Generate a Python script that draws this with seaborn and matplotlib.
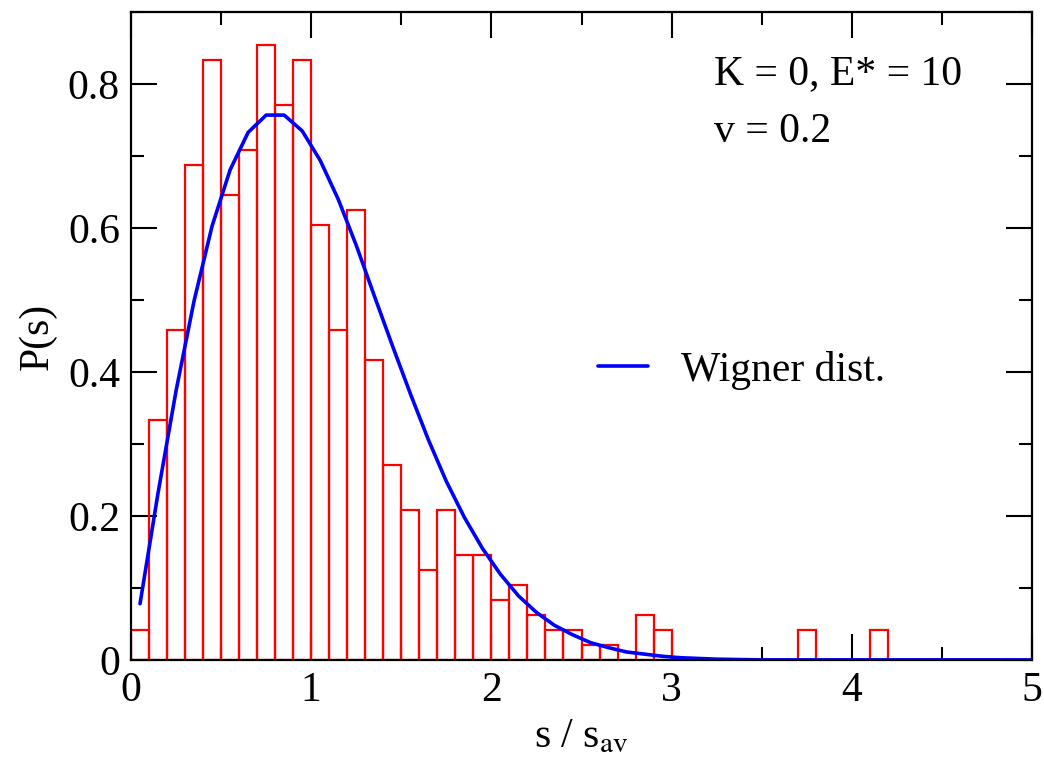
import numpy as np
import pandas as pd
import matplotlib
matplotlib.use("Agg")
import matplotlib.pyplot as plt
from matplotlib.ticker import MultipleLocator, FuncFormatter
import seaborn as sns

# histogram of level spacings (bin width 0.1), heights
bin_edges = [round(0.1 * i, 1) for i in range(43)]
bin_heights = [0.042, 0.333, 0.458, 0.688, 0.833, 0.646, 0.708, 0.854, 0.771, 0.833,
               0.604, 0.458, 0.625, 0.417, 0.271, 0.208, 0.125, 0.208, 0.146, 0.146,
               0.083, 0.104, 0.063, 0.042, 0.042, 0.021, 0.021, 0.0, 0.063, 0.042,
               0.0, 0.0, 0.0, 0.0, 0.0, 0.0, 0.0, 0.042, 0.0, 0.0, 0.0, 0.042]

# Wigner curve points
wigner_s = [0.05, 0.15, 0.25, 0.35, 0.45, 0.55, 0.65, 0.75, 0.85, 0.95,
            1.05, 1.15, 1.25, 1.35, 1.45, 1.55, 1.65, 1.75, 1.85, 1.95,
            2.05, 2.15, 2.25, 2.35, 2.45, 2.55, 2.65, 2.75, 2.85, 2.95,
            3.05, 3.25, 3.5, 4.0, 4.5, 5.0]
wigner_p = [0.078, 0.232, 0.374, 0.499, 0.603, 0.681, 0.733, 0.757, 0.757, 0.735,
            0.694, 0.640, 0.576, 0.506, 0.437, 0.370, 0.306, 0.248, 0.198, 0.155,
            0.119, 0.089, 0.066, 0.048, 0.035, 0.024, 0.017, 0.011, 0.008, 0.005,
            0.003, 0.001, 0.0, 0.0, 0.0, 0.0]

sns.set_style("white")
plt.rcParams["font.family"] = ["Liberation Serif", "DejaVu Serif"]
plt.rcParams["mathtext.fontset"] = "stix"
plt.rcParams["text.color"] = "black"
plt.rcParams["axes.labelcolor"] = "black"

centers = [round(a + 0.05, 2) for a in bin_edges[:-1]]
hist_df = pd.DataFrame({"s": centers, "p": bin_heights})
curve_df = pd.DataFrame({"s": wigner_s, "p": wigner_p})

FS = 30

fig = plt.figure(figsize=(10.44, 7.62), dpi=100)
ax = fig.add_axes([0.1255, 0.134, 0.863, 0.850])

sns.histplot(data=hist_df, x="s", weights="p", bins=bin_edges, fill=False,
             color="#ff0000", linewidth=1.6, ax=ax)
sns.lineplot(data=curve_df, x="s", y="p", color="#0000ff", linewidth=2.6,
             label="Wigner dist.", ax=ax)

ax.set_xlim(0, 5)
ax.set_ylim(0, 0.9)
ax.xaxis.set_major_locator(MultipleLocator(1))
ax.xaxis.set_minor_locator(MultipleLocator(0.5))
ax.yaxis.set_major_locator(MultipleLocator(0.2))
ax.yaxis.set_minor_locator(MultipleLocator(0.1))
ax.yaxis.set_major_formatter(FuncFormatter(lambda v, p: f"{v:g}"))
ax.tick_params(which="both", direction="in", top=True, right=True, bottom=True, left=True,
               width=1.5, labelsize=FS, colors="black")
ax.tick_params(which="major", length=19, pad=8)
ax.tick_params(which="minor", length=9.5)
for sp in ax.spines.values():
    sp.set_linewidth(1.6)
    sp.set_color("black")

ax.set_xlabel(r"s / s$_{\mathrm{av}}$", fontsize=FS, labelpad=6)
ax.set_ylabel("P(s)", fontsize=FS, labelpad=8)

ax.text(0.647, 0.905, "K = 0, E* = 10", transform=ax.transAxes, fontsize=FS, va="center")
ax.text(0.647, 0.815, "v = 0.2", transform=ax.transAxes, fontsize=FS, va="center")

ax.legend(loc="center left", bbox_to_anchor=(0.518, 0.4475), frameon=False,
          fontsize=FS, handlelength=1.2, handletextpad=0.8, borderaxespad=0, borderpad=0)

fig.savefig("out.png", dpi=100)
